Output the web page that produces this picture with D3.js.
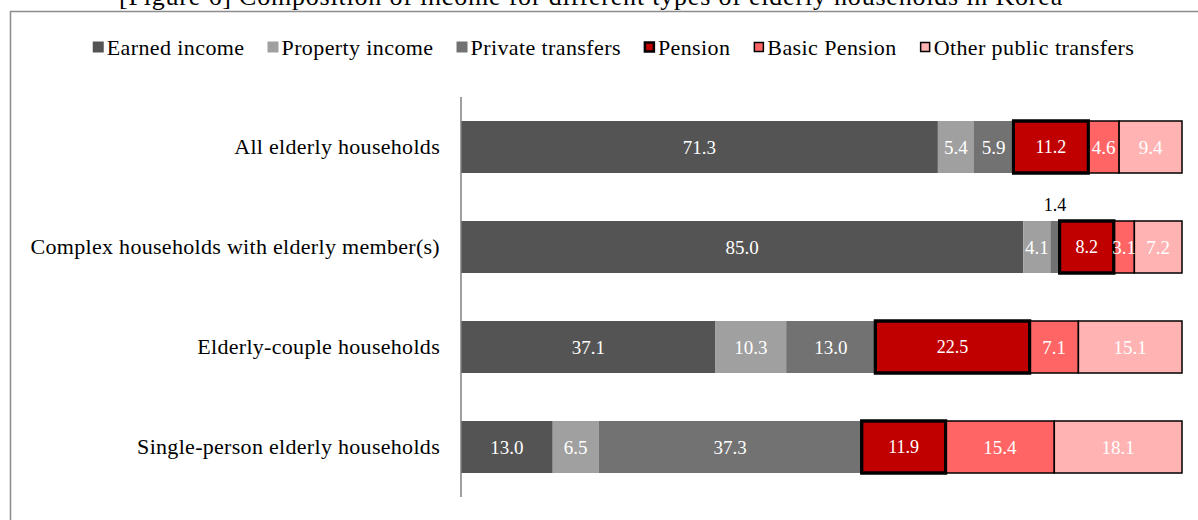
<!DOCTYPE html>
<html>
<head>
<meta charset="utf-8">
<script src="https://cdn.jsdelivr.net/npm/d3@7"></script>
<style>
  html, body { margin: 0; padding: 0; background: #fff; }
  svg { display: block; }
  text { font-family: "Liberation Serif", "DejaVu Serif", serif; }
</style>
</head>
<body>
<svg id="chart" width="1198" height="520"></svg>
<script>
// Household types (top to bottom)
const categories = [
  "All elderly households",
  "Complex households with elderly member(s)",
  "Elderly-couple households",
  "Single-person elderly households"
];

// Income sources (stack order, left to right)
const sources = ["Earned income", "Property income", "Private transfers", "Pension", "Basic Pension", "Other public transfers"];

// Share of income by source, per household type (%)
const earnedIncome    = [71.3, 85.0, 37.1, 13.0];
const propertyIncome  = [5.4, 4.1, 10.3, 6.5];
const privateTransfers = [5.9, 1.4, 13.0, 37.3];
const pension         = [11.2, 8.2, 22.5, 11.9];
const basicPension    = [4.6, 3.1, 7.1, 15.4];
const otherPublic     = [9.4, 7.2, 15.1, 18.1];

const title = "[Figure 6] Composition of income for different types of elderly households in Korea";

const colors = ["#545454", "#a0a0a0", "#727272", "#c00000", "#ff6565", "#ffb3b3"];
const strokeW = [0, 0, 0, 3, 1.5, 1.5];
const labelSize = [19, 19, 19, 18, 19, 19];

const seriesValues = [earnedIncome, propertyIncome, privateTransfers, pension, basicPension, otherPublic];
const rows = categories.map((c, i) => {
  const r = { category: c };
  sources.forEach((s, k) => { r[s] = seriesValues[k][i]; });
  return r;
});

const svg = d3.select("#chart");

// Outer frame
svg.append("rect")
  .attr("x", 10.5).attr("y", 11.5)
  .attr("width", 1250).attr("height", 600)
  .attr("fill", "none").attr("stroke", "#8c8c8c").attr("stroke-width", 1.5);

// Title (sits partly above the frame)
svg.append("text")
  .attr("x", 591).attr("y", 5)
  .attr("text-anchor", "middle")
  .attr("font-size", 26)
  .attr("letter-spacing", 0.8)
  .attr("fill", "#000")
  .text(title);

const plotLeft = 461, plotRight = 1182, plotTop = 97, plotBottom = 497;

const x = d3.scaleLinear().domain([0, 1]).range([plotLeft, plotRight]);
const y = d3.scaleBand().domain(categories).range([plotTop, plotBottom]).paddingInner(0.48).paddingOuter(0.24);

const stack = d3.stack().keys(sources).offset(d3.stackOffsetExpand);
const layers = stack(rows);

// Segments
const g = svg.append("g");
layers.forEach((layer, k) => {
  g.selectAll(null)
    .data(layer)
    .enter().append("rect")
    .attr("x", d => x(d[0]))
    .attr("y", d => y(d.data.category))
    .attr("width", d => x(d[1]) - x(d[0]))
    .attr("height", y.bandwidth())
    .attr("fill", colors[k])
    .attr("stroke", strokeW[k] ? "#000" : "none")
    .attr("stroke-width", strokeW[k]);
});

// Pension outlines drawn on top so their heavy borders are not covered
g.selectAll(null)
  .data(layers[3])
  .enter().append("rect")
  .attr("x", d => x(d[0]))
  .attr("y", d => y(d.data.category))
  .attr("width", d => x(d[1]) - x(d[0]))
  .attr("height", y.bandwidth())
  .attr("fill", "none")
  .attr("stroke", "#000")
  .attr("stroke-width", 3);

// Value labels
layers.forEach((layer, k) => {
  layer.forEach(d => {
    const w = x(d[1]) - x(d[0]);
    const cx = (x(d[0]) + x(d[1])) / 2;
    const val = d.data[sources[k]];
    const small = w < 15;
    svg.append("text")
      .attr("x", cx)
      .attr("y", small ? y(d.data.category) - 16 : y(d.data.category) + y.bandwidth() / 2)
      .attr("dy", "0.35em")
      .attr("text-anchor", "middle")
      .attr("font-size", small ? 18 : labelSize[k])
      .attr("fill", small ? "#000" : "#fff")
      .text(val.toFixed(1));
  });
});

// Category axis
const yAxis = svg.append("g").attr("transform", `translate(${plotLeft},0)`)
  .call(d3.axisLeft(y).tickSize(0).tickPadding(21));
yAxis.select(".domain").attr("stroke", "#7f7f7f").attr("stroke-width", 1.5)
  .attr("d", `M0,${plotTop}V${plotBottom}`);
yAxis.selectAll(".tick text")
  .attr("font-size", 22)
  .attr("letter-spacing", 0.3)
  .attr("fill", "#000")
  .style("font-family", '"Liberation Serif", serif');

// Legend
const legend = svg.append("g");
const gap = 23;
let cursor = 0;
sources.forEach((s, k) => {
  const item = legend.append("g");
  item.append("rect")
    .attr("x", strokeW[k] ? 1 : 0).attr("y", strokeW[k] ? -4.5 : -5.5)
    .attr("width", strokeW[k] ? 9 : 11).attr("height", strokeW[k] ? 9 : 11)
    .attr("fill", colors[k])
    .attr("stroke", strokeW[k] ? "#000" : "none")
    .attr("stroke-width", strokeW[k] ? (k === 3 ? 2.5 : 1.5) : 0);
  const t = item.append("text")
    .attr("x", 14).attr("y", 0).attr("dy", "0.35em")
    .attr("font-size", 22).attr("letter-spacing", 0.4)
    .attr("fill", "#000").text(s);
  const w = 14 + t.node().getComputedTextLength();
  item.attr("transform", `translate(${cursor},47)`);
  cursor += w + gap;
});
const totalW = cursor - gap;
legend.attr("transform", `translate(${(90 + 1137) / 2 - totalW / 2},0)`);
</script>
</body>
</html>
